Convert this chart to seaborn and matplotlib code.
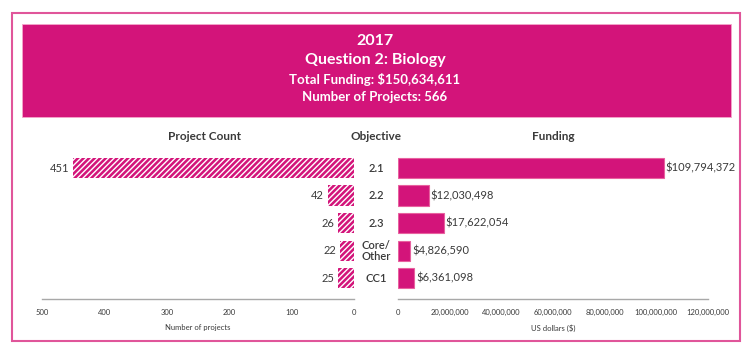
import matplotlib
matplotlib.use("Agg")
import matplotlib.pyplot as plt
import seaborn as sns
from matplotlib.patches import Rectangle
from matplotlib.ticker import FuncFormatter

# data
objectives = ["2.1", "2.2", "2.3", "Core/\nOther", "CC1"]
project_counts = [451, 42, 26, 22, 25]
funding_labels = [109794372, 12030498, 17622054, 4826590, 6361098]
# bar lengths as drawn in the picture (the 2.1 bar stops near 103M on the axis)
funding_bars = [103000000, 12030498, 17622054, 4826590, 6361098]
title_lines = ["2017", "Question 2: Biology", "Total Funding: $150,634,611", "Number of Projects: 566"]
count_ticks = [500, 400, 300, 200, 100, 0]
funding_ticks = [0, 20000000, 40000000, 60000000, 80000000, 100000000, 120000000]

PINK = "#d3147a"
BORDER = "#e0559a"
TXT = "#3a3a3a"
GRID = "#a8a8a8"

sns.set_style("white")
plt.rcParams["font.family"] = ["Lato", "DejaVu Sans"]
plt.rcParams["hatch.linewidth"] = 1.0

W, H = 750, 352
fig = plt.figure(figsize=(7.5, 3.52), dpi=100)


def fx(px):
    return px / W


def fy(py):
    return 1 - py / H


# outer border and header box
fig.patches.append(Rectangle((fx(12), fy(341)), fx(728), 328 / H, transform=fig.transFigure,
                             fill=False, edgecolor=BORDER, linewidth=1.5))
fig.patches.append(Rectangle((fx(22), fy(117)), fx(709), 93 / H, transform=fig.transFigure,
                             facecolor=PINK, edgecolor="#f4a6cb", linewidth=0.6))

sizes = [11.5, 11.5, 9.5, 9.5]
ys = [41, 60, 79, 97]
for line, s, y in zip(title_lines, sizes, ys):
    fig.text(0.5, fy(y), line, ha="center", va="center", color="white", fontsize=s, fontweight="bold")

# axes
ax_bottom, ax_top = 299, 151.5
axL = fig.add_axes([fx(42), fy(ax_bottom), fx(354 - 42), (ax_bottom - ax_top) / H])
axR = fig.add_axes([fx(398), fy(ax_bottom), fx(708 - 398), (ax_bottom - ax_top) / H])

sns.barplot(x=project_counts, y=objectives, ax=axL, color=PINK, width=0.73,
            hatch="//////", edgecolor="white", linewidth=0, saturation=1)
sns.barplot(x=funding_bars, y=objectives, ax=axR, color=PINK, width=0.73,
            edgecolor="#e8619f", linewidth=0.8, saturation=1)

axL.set_xlim(500, 0)
axR.set_xlim(0, 120000000)
for ax in (axL, axR):
    ax.set_ylim(4.76, -0.6)
    ax.set_yticks([])
    ax.set_ylabel("")
    for side in ("top", "left", "right"):
        ax.spines[side].set_visible(False)
    ax.spines["bottom"].set_color(GRID)
    ax.spines["bottom"].set_linewidth(1)
    ax.tick_params(axis="x", direction="in", length=6, width=1, color=GRID,
                   labelsize=5.5, labelcolor=TXT, pad=7)

axL.set_xticks(count_ticks)
axR.set_xticks(funding_ticks)
axR.xaxis.set_major_formatter(FuncFormatter(lambda v, p: f"{int(v):,}"))
axL.set_xlabel("Number of projects", fontsize=5.5, color=TXT, labelpad=6)
axR.set_xlabel("US dollars ($)", fontsize=5.5, color=TXT, labelpad=6)

# value labels
for i, c in enumerate(project_counts):
    axL.text(c + 6, i, str(c), ha="right", va="center", fontsize=8, color=TXT)
for i, (b, f) in enumerate(zip(funding_bars, funding_labels)):
    axR.text(b + 600000, i, f"${f:,}", ha="left", va="center", fontsize=8, color=TXT)

# objective labels in the middle
for i, o in enumerate(objectives):
    axR.text(-0.071, i, o, transform=axR.get_yaxis_transform(), ha="center", va="center",
             fontsize=8, fontweight="semibold", color=TXT, linespacing=1.0)

# column headers
fig.text(fx(204), fy(136), "Project Count", ha="center", va="center", fontsize=8.5, fontweight="bold", color=TXT)
fig.text(fx(376), fy(136), "Objective", ha="center", va="center", fontsize=8.5, fontweight="bold", color=TXT)
fig.text(fx(553), fy(136), "Funding", ha="center", va="center", fontsize=8.5, fontweight="bold", color=TXT)

fig.savefig("out.png", dpi=100)
